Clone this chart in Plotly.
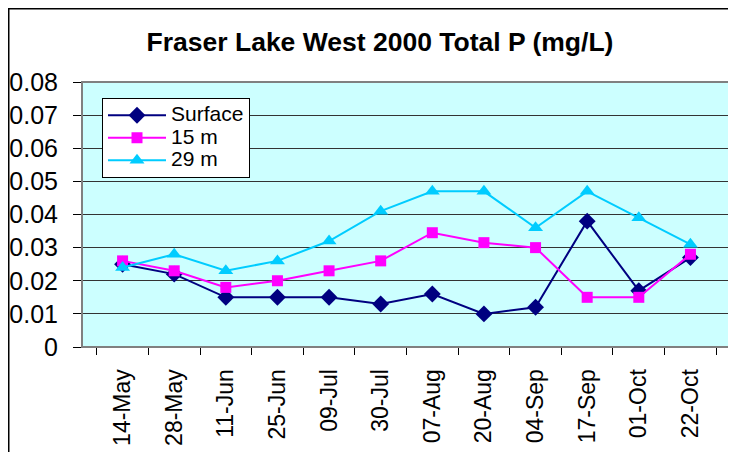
import plotly.graph_objects as go

dates = ["14-May", "28-May", "11-Jun", "25-Jun", "09-Jul", "30-Jul",
         "07-Aug", "20-Aug", "04-Sep", "17-Sep", "01-Oct", "22-Oct"]
surface = [0.025, 0.022, 0.015, 0.015, 0.015, 0.013, 0.016, 0.010, 0.012, 0.038, 0.017, 0.027]
m15 = [0.026, 0.023, 0.018, 0.020, 0.023, 0.026, 0.0345, 0.0315, 0.030, 0.015, 0.015, 0.028]
m29 = [0.024, 0.028, 0.023, 0.026, 0.032, 0.041, 0.047, 0.047, 0.036, 0.047, 0.039, 0.031]
ytick_vals = [0, 0.01, 0.02, 0.03, 0.04, 0.05, 0.06, 0.07, 0.08]
ytick_text = ["0", "0.01", "0.02", "0.03", "0.04", "0.05", "0.06", "0.07", "0.08"]

FONT = "Liberation Sans, Arial, sans-serif"
# page body has an 8px margin: the figure is placed at (8, 8)
W, H = 728, 444
L, R, T, B = 74, 5, 74, 105
PW, PH = W - L - R, H - T - B


def leg(name):
    return "<span style='font-size:21px'>%s</span>" % name


fig = go.Figure()
fig.add_trace(go.Scatter(x=dates, y=surface, name=leg("Surface"), mode="lines+markers",
                         line=dict(color="#000080", width=2),
                         marker=dict(symbol="diamond", size=13, color="#000080")))
fig.add_trace(go.Scatter(x=dates, y=m15, name=leg("15 m"), mode="lines+markers",
                         line=dict(color="#FF00FF", width=2),
                         marker=dict(symbol="square", size=11, color="#FF00FF")))
fig.add_trace(go.Scatter(x=dates, y=m29, name=leg("29 m"), mode="lines+markers",
                         line=dict(color="#00CCFF", width=2),
                         marker=dict(symbol="triangle-up", size=13, color="#00CCFF")))

fig.update_layout(
    width=W, height=H,
    margin=dict(l=L, r=R, t=T, b=B, autoexpand=False),
    paper_bgcolor="white",
    plot_bgcolor="#CCFFFF",
    font=dict(family=FONT, color="black", size=20),
    title=dict(text="<b>Fraser Lake West 2000 Total P (mg/L)</b>",
               font=dict(family=FONT, size=26.5, color="black"),
               x=372 / W, xanchor="center", xref="container",
               y=1 - 34 / H, yanchor="middle", yref="container"),
    showlegend=True,
    legend=dict(x=20 / PW, y=(H + 8 - B - 98) / PH,
                xanchor="left", yanchor="top",
                bgcolor="white", bordercolor="black", borderwidth=1,
                font=dict(family=FONT, size=15, color="black"),
                tracegroupgap=0, itemwidth=58),
    xaxis=dict(type="category", categoryorder="array", categoryarray=dates,
               tickson="boundaries", ticks="outside", ticklen=7, tickcolor="black",
               tickangle=-90, tickfont=dict(family=FONT, size=23, color="black"),
               showgrid=False, showline=True, linecolor="#808080", linewidth=1,
               ticklabelstandoff=12, zeroline=False, automargin=False),
    yaxis=dict(range=[0, 0.08], tickvals=ytick_vals, ticktext=ytick_text,
               ticks="outside", ticklen=8, tickcolor="black",
               tickfont=dict(family=FONT, size=25, color="black"),
               showgrid=True, gridcolor="#333333", gridwidth=1,
               showline=True, linecolor="black", linewidth=1,
               zeroline=False, ticklabelstandoff=10, automargin=False),
)

# gray plot border (top/right) and outer chart frame (top and left edges)
fig.add_shape(type="rect", xref="paper", yref="paper", x0=0, x1=1, y0=0, y1=1,
              line=dict(color="#808080", width=2), layer="above")
fig.add_shape(type="line", xref="paper", yref="paper",
              x0=-L / PW, x1=1 + (R + 5) / PW,
              y0=1 + T / PH, y1=1 + T / PH,
              line=dict(color="black", width=3))
fig.add_shape(type="line", xref="paper", yref="paper",
              x0=-L / PW, x1=-L / PW,
              y0=1 + T / PH, y1=-(B + 10) / PH,
              line=dict(color="black", width=3))

fig.write_html("out.html")
